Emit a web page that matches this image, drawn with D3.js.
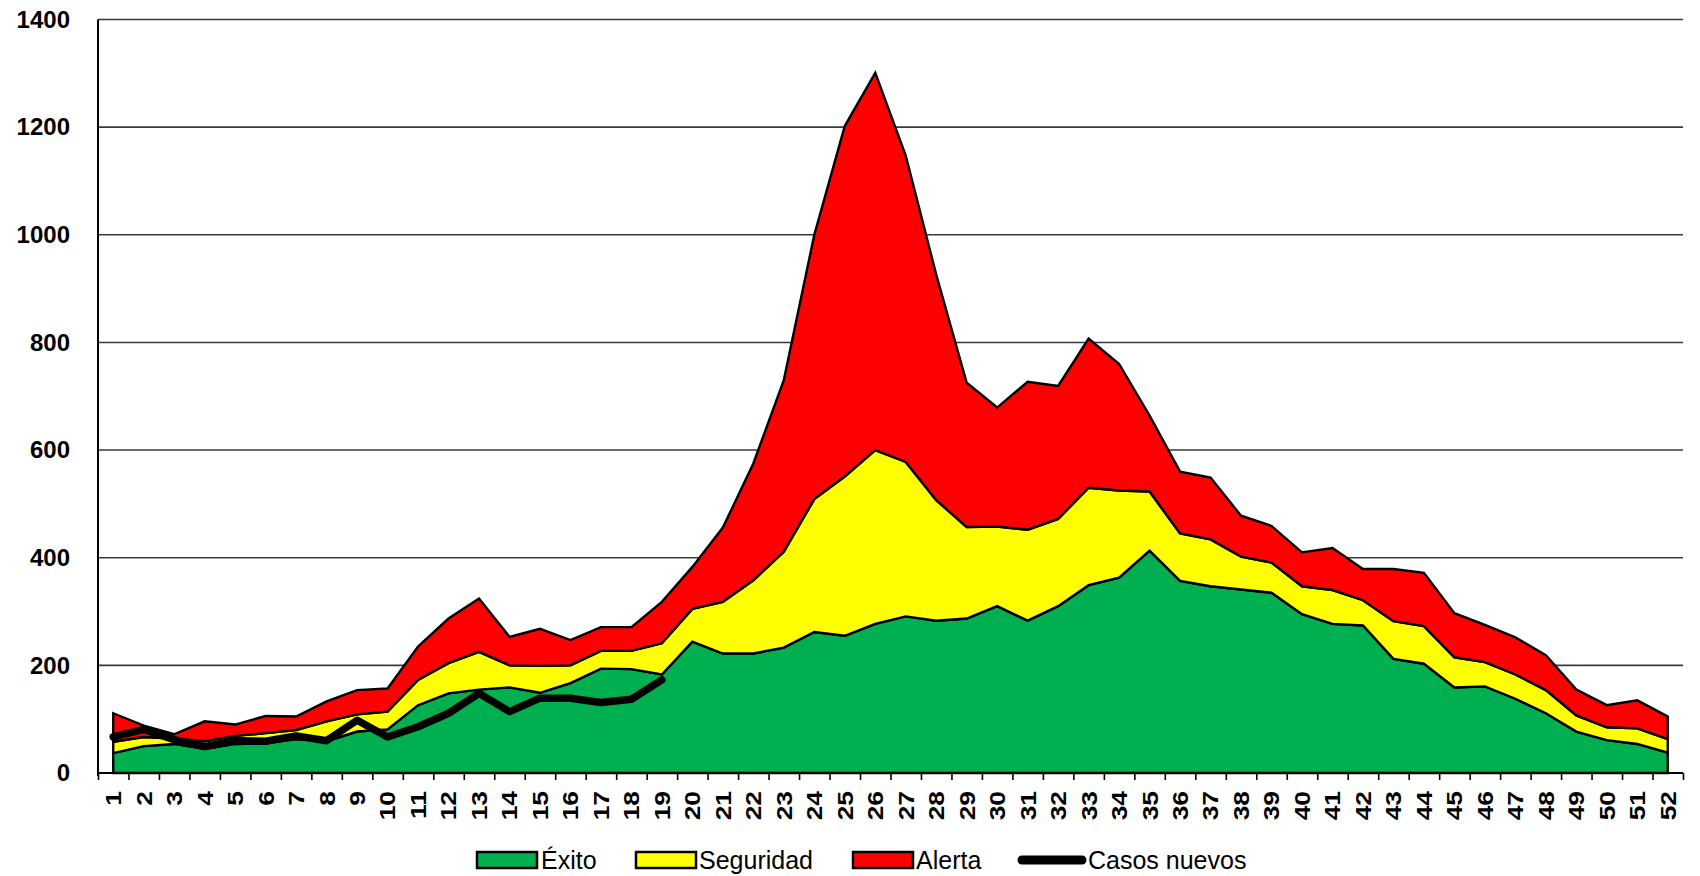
<!DOCTYPE html>
<html>
<head>
<meta charset="utf-8">
<script src="https://cdn.jsdelivr.net/npm/d3@7"></script>
<style>
  html, body { margin: 0; padding: 0; background: #fff; }
  svg { display: block; font-family: "Liberation Sans", Arial, sans-serif; }
</style>
</head>
<body>
<svg id="chart" width="1700" height="876"></svg>
<script>
// ---- Data ----
const weeks = d3.range(1, 53).map(String);
const exito = [37,50,54,45,54,55,63,59,77,81,126,148,155,159,149,167,194,193,183,244,222,222,233,262,255,277,291,283,287,310,283,310,349,363,413,357,347,341,335,295,277,274,212,203,159,161,138,111,77,61,54,38];
const seguridad = [21,17,10,14,15,19,17,37,32,33,47,56,70,41,50,33,33,34,58,61,96,136,178,247,296,323,287,224,170,148,169,162,181,162,110,88,87,61,56,52,63,47,70,70,56,45,45,43,30,24,29,25];
const alerta = [53,21,8,37,21,32,25,37,45,43,62,83,99,53,69,47,44,44,77,78,138,217,319,491,651,701,569,419,268,221,275,247,277,235,141,115,115,76,68,63,78,58,97,99,82,69,69,65,48,41,52,42];
const casosNuevos = [67,81,62,49,60,59,69,60,98,67,86,111,148,114,139,139,131,137,173];
const yTicks = [0,200,400,600,800,1000,1200,1400];
const seriesNames = ["Éxito","Seguridad","Alerta"];
const seriesColors = ["#00B050","#FFFF00","#FF0000"];
const lineName = "Casos nuevos";

// ---- Layout ----
const plotL = 98, plotR = 1683, plotT = 19.5, plotB = 773;
const svg = d3.select("#chart");

const x = d3.scaleBand().domain(weeks).range([plotL, plotR]).paddingInner(0).paddingOuter(0);
const xc = w => x(w) + x.bandwidth() / 2;
const xb = d3.scaleLinear().domain([0, 52]).range([plotL, plotR]);
const y = d3.scaleLinear().domain([0, 1400]).range([plotB, plotT]);

// gridlines
svg.append("g").selectAll("line").data(yTicks.filter(v => v > 0)).join("line")
  .attr("x1", plotL).attr("x2", plotR)
  .attr("y1", d => y(d)).attr("y2", d => y(d))
  .attr("stroke", "#3a3a3a").attr("stroke-width", 1.6);

// stacked areas
const table = weeks.map((w, i) => ({ week: w, "Éxito": exito[i], "Seguridad": seguridad[i], "Alerta": alerta[i] }));
const stack = d3.stack().keys(seriesNames)(table);
const area = d3.area()
  .x(d => xc(d.data.week))
  .y0(d => y(d[0]))
  .y1(d => y(d[1]));

svg.append("g").selectAll("path").data(stack).join("path")
  .attr("d", area)
  .attr("fill", (d, i) => seriesColors[i])
  .attr("stroke", "#000")
  .attr("stroke-width", 2.4)
  .attr("stroke-linejoin", "miter");

// line
const line = d3.line().x((d, i) => xc(weeks[i])).y(d => y(d));
svg.append("path").datum(casosNuevos)
  .attr("d", line)
  .attr("fill", "none")
  .attr("stroke", "#000")
  .attr("stroke-width", 7.5)
  .attr("stroke-linejoin", "round")
  .attr("stroke-linecap", "round");

// y axis
const yAxis = svg.append("g").attr("transform", `translate(${plotL},0)`)
  .call(d3.axisLeft(y).tickValues(yTicks).tickSize(0).tickPadding(28).tickFormat(d3.format("d")));
yAxis.select(".domain").attr("stroke", "#000").attr("stroke-width", 2).attr("d", `M0,${plotT}V${plotB + 3}`);
yAxis.selectAll("text").attr("font-size", 24).attr("font-weight", "bold").attr("fill", "#000")
  .attr("font-family", "Liberation Sans, Arial, sans-serif");

// x axis boundary ticks
const xTickAxis = svg.append("g").attr("transform", `translate(0,${plotB})`)
  .call(d3.axisBottom(xb).tickValues(d3.range(0, 53)).tickSize(7).tickFormat(""));
xTickAxis.select(".domain").attr("stroke", "#000").attr("stroke-width", 2).attr("d", `M${plotL},0H${plotR}`);
xTickAxis.selectAll(".tick line").attr("stroke", "#000").attr("stroke-width", 1.6);

// x axis labels
const xLab = svg.append("g").attr("transform", `translate(0,${plotB})`)
  .call(d3.axisBottom(x).tickSize(0).tickPadding(0));
xLab.select(".domain").remove();
xLab.selectAll("text")
  .attr("font-size", 22).attr("font-weight", "bold").attr("fill", "#000")
  .attr("font-family", "Liberation Sans, Arial, sans-serif")
  .attr("text-anchor", "end")
  .attr("transform", "translate(0,18) rotate(-90) scale(1.2,1)")
  .attr("x", 0).attr("y", 0).attr("dy", "0.36em");

// legend
const lg = svg.append("g").attr("font-size", 25).attr("fill", "#000");
const legendY = 860;
const swX = [477, 636, 853];
const txtX = [541, 699, 916];
seriesNames.forEach((n, i) => {
  lg.append("rect").attr("x", swX[i]).attr("y", legendY - 8).attr("width", 60).attr("height", 16)
    .attr("fill", seriesColors[i]).attr("stroke", "#000").attr("stroke-width", 2.5);
  lg.append("text").attr("x", txtX[i]).attr("y", legendY).attr("dy", "0.35em").text(n);
});
lg.append("line").attr("x1", 1022).attr("x2", 1082).attr("y1", legendY).attr("y2", legendY)
  .attr("stroke", "#000").attr("stroke-width", 9).attr("stroke-linecap", "round");
lg.append("text").attr("x", 1088).attr("y", legendY).attr("dy", "0.35em").text(lineName);
</script>
</body>
</html>
